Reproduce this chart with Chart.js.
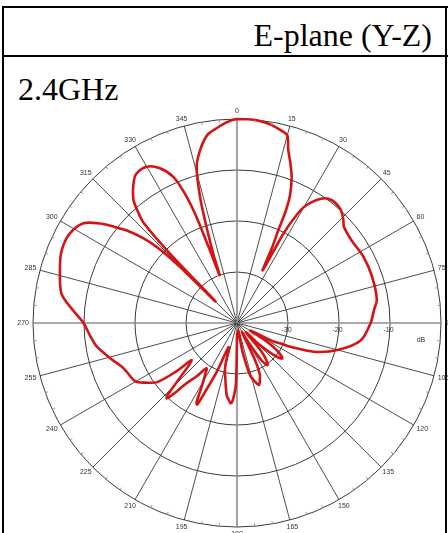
<!DOCTYPE html>
<html>
<head>
<meta charset="utf-8">
<script src="https://cdn.jsdelivr.net/npm/chart.js@4.4.0/dist/chart.umd.min.js"></script>
<style>
  body { margin: 0; width: 448px; height: 533px; overflow: hidden; background: #fff; position: relative; }
  .line { position: absolute; background: #000; }
  .txt { position: absolute; font-family: "Liberation Serif", "Times New Roman", serif; font-size: 32px; line-height: 32px; color: #000; white-space: nowrap; }
  #chart { position: absolute; left: 0; top: 0; }
</style>
</head>
<body>
<div class="line" style="left:2px;top:6px;width:446px;height:2px"></div>
<div class="line" style="left:2px;top:6px;width:2px;height:530px"></div>
<div class="line" style="left:445px;top:6px;width:2px;height:530px"></div>
<div class="line" style="left:2px;top:55px;width:446px;height:2px"></div>
<div class="txt" id="plane" style="right:16px;top:19px">E-plane (Y-Z)</div>
<div class="txt" id="freq" style="left:18px;top:73px">2.4GHz</div>
<canvas id="chart" width="448" height="533"></canvas>
<script>
// angle labels round the rim and dB rings
const angleLabels = [0, 15, 30, 45, 60, 75, 90, 105, 120, 135, 150, 165, 180, 195, 210, 225, 240, 255, 270, 285, 300, 315, 330, 345];
const ringTicks = [-30, -20, -10];

const patternAngles = [
  0, 4, 7, 10, 13, 15, 16.5, 18.5, 20.5, 22.5, 23.5, 24, 25, 26,
  27.5, 29, 30.5, 34, 37.5, 42.5, 46, 48, 54, 62.5, 71, 80.5, 84.5, 90, 98, 105, 110.5, 114, 115, 117, 119.5,
  122, 124.5, 128, 131, 134, 136.5,
  139, 141.5, 144, 146.5, 149, 151.5,
  154, 156, 158, 160.5, 163, 166, 169, 172,
  177, 179.5, 181, 183, 184.5, 186, 188, 191.5, 195, 199,
  202.5, 204.5, 206, 207, 209, 211.5, 214,
  217, 220, 222, 223, 224, 226, 230.5,
  231.5, 233.5, 236.5, 239.5, 241.5, 248.5, 254.5, 260.5, 265, 270, 274.5, 279.5, 287.5, 292.5, 298, 303, 306, 308, 310, 312, 313.5, 314.5, 315,
  316, 317, 318.5, 320, 323.5, 326, 330, 333.5, 336.5, 338, 339, 339.5, 340,
  341, 342, 343.5, 345.5, 348, 351, 354, 357
];
const patternGain = [
  0, 0, -0.2, -0.6, -1.3, -1.9, -4.6, -7, -9.4, -12.8, -16, -20, -24, -28.5,
  -20, -15.5, -13.2, -10.6, -9.6, -9.9, -11, -11.8, -12.3, -12, -12, -12.2, -13, -13.8, -15.5, -19.6, -23.9, -28.5, -30.5, -32, -37,
  -33, -30.5, -28.7, -30.5, -34, -37.5,
  -33, -30.8, -29.8, -31, -35, -38,
  -32, -29, -28, -27.1, -28, -29.5, -34, -38.5,
  -38, -38, -28, -25, -24.2, -24.8, -25.6, -28.6, -31, -35,
  -29.5, -26, -22.2, -22.5, -25.7, -28, -29.3,
  -27, -24.5, -21, -19.8, -20.5, -24.2, -28.5,
  -24.6, -20.5, -18.8, -17.2, -16.8, -16, -14.2, -12.1, -11.1, -9.9, -7.7, -5.1, -3.6, -2.8, -2.8, -4.1, -6.8, -9.3, -11.8, -15, -18.4, -24, -34,
  -21, -13.2, -10.5, -8.4, -5.9, -4.7, -4.6, -6.1, -8.8, -12.5, -17, -24, -30,
  -26, -22, -14.9, -8.4, -5.3, -2.7, -1.6, -0.6
];

// half-degree spokes so the pattern can sit between the 15 degree lines
const labels = [];
const values = [];
for (let i = 0; i < 720; i++) {
  labels.push(String(i / 2));
  values.push(null);
}
patternAngles.forEach((a, k) => {
  values[Math.round(a * 2)] = patternGain[k];
});

const rimLabels = {
  id: 'rimLabels',
  afterDraw(chart) {
    const scale = chart.scales.r;
    const ctx = chart.ctx;
    const R = scale.drawingArea;
    ctx.save();
    // small ticks every 5 degrees on the rim
    ctx.strokeStyle = '#999';
    ctx.lineWidth = 1;
    for (let d = 0; d < 360; d += 5) {
      if (d % 15 === 0) continue;
      const p1 = scale.getPointPosition(d * 2, R - 3);
      const p2 = scale.getPointPosition(d * 2, R);
      ctx.beginPath();
      ctx.moveTo(p1.x, p1.y);
      ctx.lineTo(p2.x, p2.y);
      ctx.stroke();
    }
    ctx.font = '7px "Liberation Sans", Arial, sans-serif';
    ctx.fillStyle = '#333';
    ctx.textAlign = 'center';
    ctx.textBaseline = 'middle';
    angleLabels.forEach(a => {
      const p = scale.getPointPosition(a * 2, R + 3);
      const w = ctx.measureText(String(a)).width;
      const s = Math.sin(a * Math.PI / 180);
      const c = Math.cos(a * Math.PI / 180);
      ctx.fillText(String(a), p.x + s * (w / 2 + 1), p.y - c * 4.5);
    });
    ringTicks.forEach(t => {
      const d = scale.getDistanceFromCenterForValue(t);
      ctx.fillText(String(t), scale.xCenter + d - 1.5, scale.yCenter + 7);
    });
    ctx.fillText('dB', scale.xCenter + 184, scale.yCenter + 17);
    ctx.restore();
  }
};

new Chart(document.getElementById('chart'), {
  type: 'radar',
  data: {
    labels: labels,
    datasets: [{
      data: values,
      borderColor: '#d41414',
      backgroundColor: 'rgba(0,0,0,0)',
      borderWidth: 2.6,
      pointRadius: 0,
      fill: false,
      tension: 0.3,
      spanGaps: true
    }]
  },
  options: {
    responsive: false,
    animation: false,
    devicePixelRatio: 1,
    layout: { padding: { left: 33, top: 119, right: 7, bottom: 6 } },
    plugins: { legend: { display: false }, tooltip: { enabled: false } },
    scales: {
      r: {
        min: -40,
        max: 0,
        ticks: { stepSize: 10, display: false },
        pointLabels: { display: false },
        grid: { circular: true, color: '#3a3a3a', lineWidth: 1 },
        angleLines: {
          color: ctx => (ctx.index % 180 === 0 ? '#8c8c8c' : '#3a3a3a'),
          lineWidth: ctx => (ctx.index % 30 === 0 ? (ctx.index % 180 === 0 ? 1.6 : 0.9) : 0)
        }
      }
    }
  },
  plugins: [rimLabels]
});
</script>
</body>
</html>
